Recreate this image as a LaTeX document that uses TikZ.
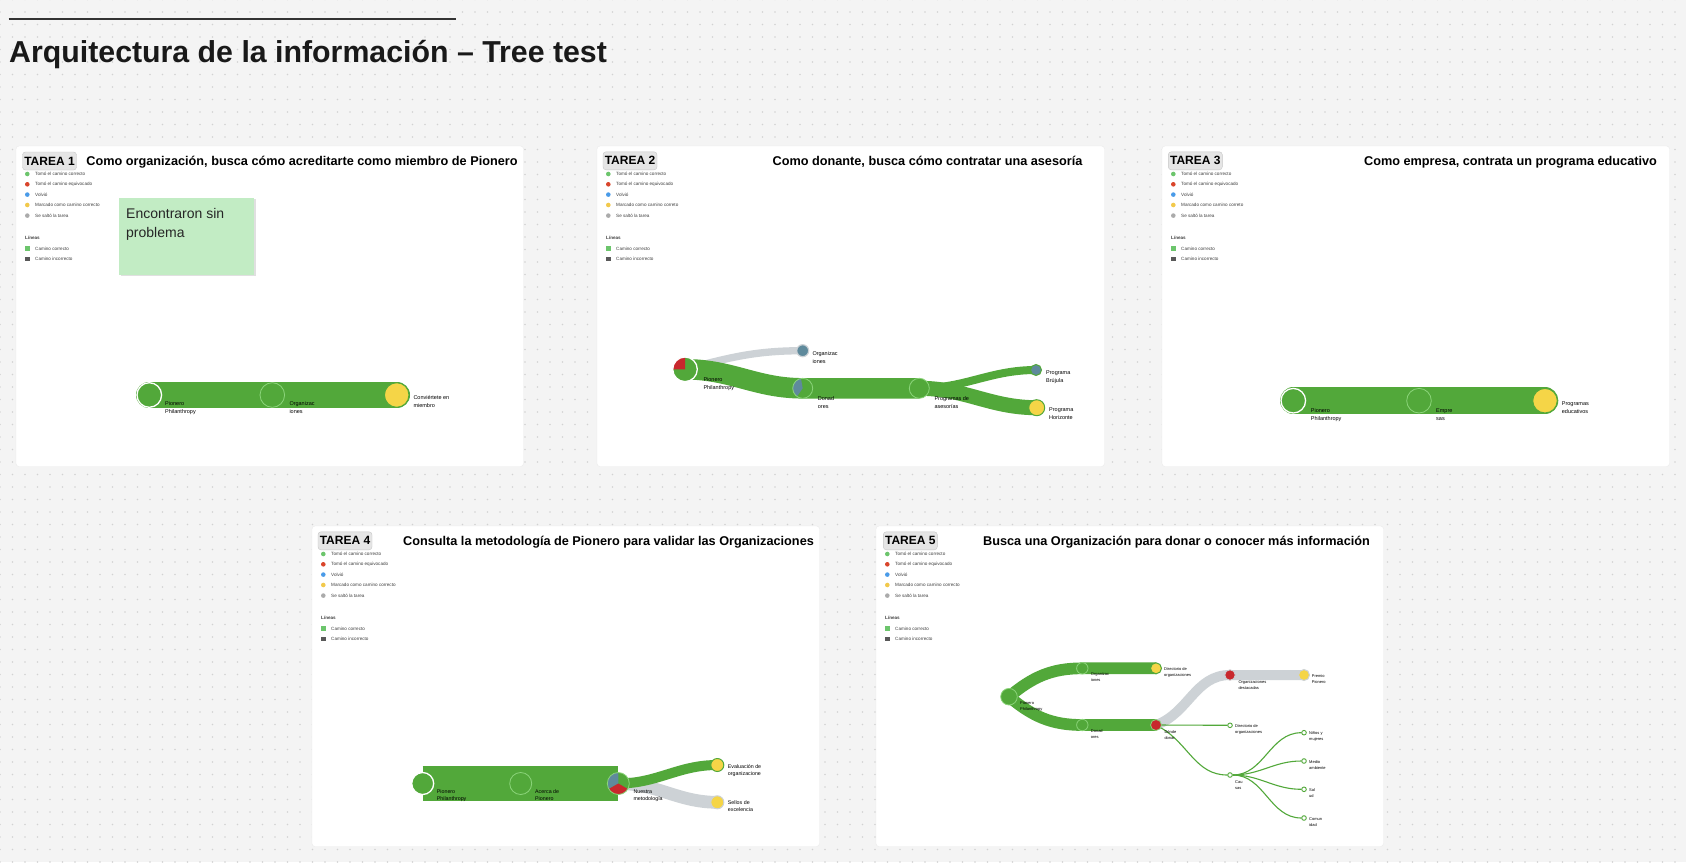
\documentclass[tikz,border=0pt]{standalone}
\usepackage{fontspec}
\setmainfont{Liberation Sans}
\usetikzlibrary{patterns.meta}

\definecolor{fondo}{HTML}{F4F4F4}
\definecolor{gridpunto}{HTML}{D2D2D2}
\definecolor{verde}{HTML}{52A83A}
\definecolor{verdeclaro}{HTML}{8BD47A}
\definecolor{amarillo}{HTML}{F5D547}
\definecolor{rojo}{HTML}{C8282D}
\definecolor{volvio}{HTML}{5F8A9C}
\definecolor{grisbanda}{HTML}{CDD2D6}
\definecolor{legverde}{HTML}{6CC56C}
\definecolor{legrojo}{HTML}{D9452B}
\definecolor{legazul}{HTML}{4A9BE8}
\definecolor{legamar}{HTML}{F2C94C}
\definecolor{leggris}{HTML}{ABABAB}
\definecolor{nota}{HTML}{C2ECC4}

\pgfdeclarelayer{fondo}
\pgfdeclarelayer{bandas}
\pgfsetlayers{fondo,bandas,main}

\tikzset{
  panel/.style={fill=white, draw=black!8, rounded corners=3pt},
  etiqueta/.style={fill=black!10, draw=black!22, rounded corners=3pt, inner sep=0pt,
    minimum width=54pt, minimum height=18pt, font=\bfseries\fontsize{12}{12}\selectfont},
  tarea/.style={anchor=base, inner sep=0pt, font=\bfseries\fontsize{12.7}{13}\selectfont},
  leytexto/.style={anchor=west, inner sep=0pt, text=black!75, font=\fontsize{4.6}{5}\selectfont},
  bolita/.style={circle, inner sep=0pt, minimum size=4.6pt},
  cuadrito/.style={inner sep=0pt, minimum size=4.4pt},
  rotulo/.style={anchor=north west, inner sep=0pt, align=left, text=black,
    font=\fontsize{5.5}{8}\selectfont},
  rotulito/.style={anchor=north west, inner sep=0pt, align=left, text=black,
    font=\fontsize{4}{6}\selectfont},
  nodo/.style={circle, inner sep=0pt, minimum size=#1},
  inicio/.style={fill=verde, draw=white, line width=1.3pt},
  ok/.style={fill=verde, draw=verdeclaro, line width=.8pt},
  fin/.style={fill=amarillo, draw=verde, line width=1pt},
  vuelta/.style={fill=volvio, draw=verde, line width=1pt},
  fallo/.style={fill=rojo, draw=verdeclaro, line width=.8pt},
  hueco/.style={fill=white, draw=verde, line width=.9pt},
  banda/.style={draw=verde},
  gris/.style={draw=grisbanda},
  hilo/.style={draw=verde, line width=1.1pt},
}

% leyenda de cada tarjeta, en coordenadas de la tarjeta
\newcommand\leyenda[2]{%
  \node[bolita, fill=legverde] (#1a) at (11.3,-28) {};
  \node[leytexto] (#1ta) at (19,-28) {Tomó el camino correcto};
  \node[bolita, fill=legrojo] (#1b) at (11.3,-38.3) {};
  \node[leytexto] (#1tb) at (19,-38.3) {Tomó el camino equivocado};
  \node[bolita, fill=legazul] (#1c) at (11.3,-48.6) {};
  \node[leytexto] (#1tc) at (19,-48.6) {Volvió};
  \node[bolita, fill=legamar] (#1d) at (11.3,-59) {};
  \node[leytexto] (#1td) at (19,-59) {Marcado como camino #2};
  \node[bolita, fill=leggris] (#1e) at (11.3,-69.6) {};
  \node[leytexto] (#1te) at (19,-69.6) {Se saltó la tarea};
  \node[leytexto, font=\bfseries\fontsize{4.6}{5}\selectfont] (#1tl) at (9,-91.7) {Líneas};
  \node[cuadrito, fill=legverde] (#1f) at (11.3,-102.6) {};
  \node[leytexto] (#1tf) at (19,-102.6) {Camino correcto};
  \node[cuadrito, fill=black!65] (#1g) at (11.3,-113) {};
  \node[leytexto] (#1tg) at (19,-113) {Camino incorrecto};
}

\begin{document}
\begin{tikzpicture}[x=1pt,y=1pt]
  \useasboundingbox (0,0) rectangle (1686,-862);

  \begin{pgfonlayer}{fondo}
    \fill[fondo] (0,0) rectangle (1686,-862);
    \fill[pattern={Dots[radius=0.8pt,distance=12.5pt]}, pattern color=gridpunto] (0,0) rectangle (1686,-862);
    \filldraw[panel] (16,-146) rectangle ++(507.5,-320.5);
    \filldraw[panel] (597,-146) rectangle ++(507.5,-320.5);
    \filldraw[panel] (1162,-146) rectangle ++(507.5,-320.5);
    \filldraw[panel] (312,-526) rectangle ++(507.5,-320.5);
    \filldraw[panel] (876,-526) rectangle ++(507.5,-320.5);
  \end{pgfonlayer}

  %%%%% TITULO %%%%%
  \draw[line width=2pt, black!80] (8.6,-19.4) -- (456,-19.4);
  \node[anchor=base west, inner sep=0pt, font=\bfseries\fontsize{30.3}{31}\selectfont, text=black!90]
    (titulo) at (9,-62) {Arquitectura de la información – Tree test};

  %%%%% TAREA 1 %%%%%
  \begin{scope}[shift={(16,-146)}]
    \node[etiqueta] (t1) at (33.5,-15) {TAREA 1};
    \node[tarea] (c1) at (286,-19) {Como organización, busca cómo acreditarte como miembro de Pionero};
    \leyenda{l1}{correcto}
    \fill[black!12] (104.5,-52.8) rectangle (239.5,-129.8);
    \node[fill=nota, anchor=north west, minimum width=135pt, minimum height=77pt, inner sep=0pt]
      (nota1) at (103,-51.3) {};
    \node[anchor=north west, inner sep=0pt, align=left, font=\fontsize{14}{19}\selectfont, text=black!85]
      (nota1t) at (110,-62.5) {Encontraron sin\\problema};
  \end{scope}

  \node[nodo=24.6pt, inicio] (p1) at (149.3,-395) {};
  \node[nodo=24.6pt, ok] (o1) at (272.3,-395) {};
  \node[nodo=24.6pt, fin] (m1) at (396.7,-395) {};
  \begin{pgfonlayer}{bandas}
    \draw[banda, line width=26.6pt, line cap=round] (p1.center) -- (o1.center) -- (m1.center);
  \end{pgfonlayer}
  \node[rotulo] (p1t) at (165,-401.8) {Pionero\\Philanthropy};
  \node[rotulo] (o1t) at (289.3,-401.8) {Organizac\\iones};
  \node[rotulo] (m1t) at (413.3,-394.8) {Conviértete en\\miembro};

  %%%%% TAREA 2 %%%%%
  \begin{scope}[shift={(597,-146)}]
    \node[etiqueta] (t2) at (33,-14.8) {TAREA 2};
    \node[tarea] (c2) at (330.5,-19) {Como donante, busca cómo contratar una asesoría};
    \leyenda{l2}{correto}
  \end{scope}

  \node[nodo=24.6pt, inicio, path picture={\fill[rojo] (path picture bounding box.center)
    -- ++(90:15pt) arc[start angle=90, end angle=180, radius=15pt] -- cycle;}] (p2) at (685,-369.3) {};
  \node[nodo=12pt, fill=volvio, draw=grisbanda, line width=1.2pt] (o2) at (802.7,-350.7) {};
  \node[nodo=20pt, ok, path picture={\fill[volvio] (path picture bounding box.center)
    -- ++(100:12pt) arc[start angle=100, end angle=235, radius=12pt] -- cycle;}] (d2) at (802.7,-388.3) {};
  \node[nodo=20pt, ok] (a2) at (919.3,-388.3) {};
  \node[nodo=11pt, vuelta] (b2) at (1036,-370) {};
  \node[nodo=16pt, fin] (h2) at (1036.7,-407.7) {};
  \begin{pgfonlayer}{bandas}
    \draw[gris, line width=7.3pt] (p2.center) to[out=15,in=180] (o2.center);
    \draw[banda, line width=20.5pt] (p2.center) to[out=0,in=180] (d2.center) -- (a2.center);
    \draw[banda, line width=8pt] (a2.center) to[out=0,in=180] (b2.center);
    \draw[banda, line width=15pt] (a2.center) to[out=0,in=180] (h2.center);
  \end{pgfonlayer}
  \node[rotulo] (p2t) at (703.3,-377.5) {Pionero\\Philanthropy};
  \node[rotulo] (o2t) at (812.3,-351.5) {Organizac\\iones};
  \node[rotulo] (d2t) at (817.7,-396.5) {Donad\\ores};
  \node[rotulo] (a2t) at (934.3,-396.5) {Programas de\\asesorías};
  \node[rotulo] (b2t) at (1046,-370.2) {Programa\\Brújula};
  \node[rotulo] (h2t) at (1049,-407.5) {Programa\\Horizonte};

  %%%%% TAREA 3 %%%%%
  \begin{scope}[shift={(1162,-146)}]
    \node[etiqueta] (t3) at (33.3,-14.8) {TAREA 3};
    \node[tarea] (c3) at (348.5,-19) {Como empresa, contrata un programa educativo};
    \leyenda{l3}{correto}
  \end{scope}

  \node[nodo=24.6pt, inicio] (p3) at (1293.3,-400.7) {};
  \node[nodo=24.6pt, ok] (e3) at (1419,-400.7) {};
  \node[nodo=24.6pt, fin] (m3) at (1545,-400.7) {};
  \begin{pgfonlayer}{bandas}
    \draw[banda, line width=26.6pt, line cap=round] (p3.center) -- (e3.center) -- (m3.center);
  \end{pgfonlayer}
  \node[rotulo] (p3t) at (1310.7,-408.5) {Pionero\\Philanthropy};
  \node[rotulo] (e3t) at (1436,-408.5) {Empre\\sas};
  \node[rotulo] (m3t) at (1561.7,-401.5) {Programas\\educativos};

  %%%%% TAREA 4 %%%%%
  \begin{scope}[shift={(312,-526)}]
    \node[etiqueta] (t4) at (33,-14.8) {TAREA 4};
    \node[tarea] (c4) at (296.5,-19.5) {Consulta la metodología de Pionero para validar las Organizaciones};
    \leyenda{l4}{correcto}
  \end{scope}

  \node[nodo=22pt, inicio] (p4) at (422.7,-783.5) {};
  \node[nodo=22pt, ok] (a4) at (520.7,-783.5) {};
  \node[nodo=22pt, ok, path picture={
      \fill[volvio] (path picture bounding box.center) -- ++(90:14pt) arc[start angle=90, end angle=210, radius=14pt] -- cycle;
      \fill[rojo] (path picture bounding box.center) -- ++(210:14pt) arc[start angle=210, end angle=330, radius=14pt] -- cycle;}]
    (n4) at (618.3,-783.5) {};
  \node[nodo=13pt, fin] (e4) at (717.3,-765) {};
  \node[nodo=13pt, fin, draw=grisbanda] (s4) at (717.3,-802.3) {};
  \begin{pgfonlayer}{bandas}
    \draw[banda, line width=35.7pt] (p4.center) -- (a4.center) -- (n4.center);
    \draw[gris, line width=12.7pt] (n4.center) to[out=0,in=180] (s4.center);
    \draw[banda, line width=10pt] (n4.center) to[out=0,in=180] (e4.center);
  \end{pgfonlayer}
  \node[rotulo, font=\fontsize{5.3}{7}\selectfont] (p4t) at (436.7,-789.8) {Pionero\\Philanthropy};
  \node[rotulo, font=\fontsize{5.3}{7}\selectfont] (a4t) at (535,-789.8) {Acerca de\\Pionero};
  \node[rotulo, font=\fontsize{5.3}{7}\selectfont] (n4t) at (633.3,-789.8) {Nuestra\\metodología};
  \node[rotulo, font=\fontsize{5.3}{7}\selectfont] (e4t) at (727.7,-764.2) {Evaluación de\\organizacione};
  \node[rotulo, font=\fontsize{5.3}{7}\selectfont] (s4t) at (727.7,-800.8) {Sellos de\\excelencia};

  %%%%% TAREA 5 %%%%%
  \begin{scope}[shift={(876,-526)}]
    \node[etiqueta] (t5) at (34.3,-14.8) {TAREA 5};
    \node[tarea] (c5) at (300.5,-19.5) {Busca una Organización para donar o conocer más información};
    \leyenda{l5}{correcto}
  \end{scope}

  \node[nodo=16.6pt, ok] (p5) at (1009,-696.7) {};
  \node[nodo=11.4pt, ok] (o5) at (1082.3,-668.3) {};
  \node[nodo=11pt, fin] (r5) at (1156,-668.3) {};
  \node[nodo=11.4pt, ok] (n5) at (1082.3,-725) {};
  \node[nodo=11pt, fallo] (dd5) at (1156,-725) {};
  \node[nodo=10.5pt, fallo, draw=grisbanda] (ds5) at (1230,-675) {};
  \node[nodo=11pt, fin, draw=grisbanda] (pr5) at (1304,-675) {};
  \node[nodo=4.6pt, hueco] (dir5) at (1230,-725.3) {};
  \node[nodo=4.6pt, hueco] (ca5) at (1230,-775) {};
  \node[nodo=4.6pt, hueco] (k1) at (1304,-732.7) {};
  \node[nodo=4.6pt, hueco] (k2) at (1304,-761) {};
  \node[nodo=4.6pt, hueco] (k3) at (1304,-789.3) {};
  \node[nodo=4.6pt, hueco] (k4) at (1304,-818) {};
  \begin{pgfonlayer}{bandas}
    \draw[banda, line width=11.7pt] (p5.center) to[out=40,in=180] (o5.center) -- (r5.center);
    \draw[banda, line width=11.7pt] (p5.center) to[out=-40,in=180] (n5.center) -- (dd5.center);
    \draw[gris, line width=10pt] (dd5.center) to[out=20,in=180] (ds5.center) -- (pr5.center);
  \end{pgfonlayer}
  \draw[hilo] (dd5) -- (dir5);
  \draw[hilo] (dd5) to[out=-30,in=180] (ca5);
  \draw[hilo] (ca5) to[out=0,in=180] (k1);
  \draw[hilo] (ca5) to[out=0,in=180] (k2);
  \draw[hilo] (ca5) to[out=0,in=180] (k3);
  \draw[hilo] (ca5) to[out=0,in=180] (k4);
  \node[rotulito] (p5t) at (1020,-701) {Pionero\\Philanthropy};
  \node[rotulito] (o5t) at (1090.7,-672.8) {Organizac\\iones};
  \node[rotulito] (r5t) at (1164,-667.8) {Directorio de\\organizaciones};
  \node[rotulito] (n5t) at (1090.7,-729.5) {Donad\\ores};
  \node[rotulito] (dd5t) at (1164.3,-730) {Dónde\\donar};
  \node[rotulito] (ds5t) at (1238.3,-680) {Organizaciones\\destacadas};
  \node[rotulito] (pr5t) at (1311.7,-674.5) {Premio\\Pionero};
  \node[rotulito] (dir5t) at (1235,-724.5) {Directorio de\\organizaciones};
  \node[rotulito] (ca5t) at (1235,-780) {Cau\\sas};
  \node[rotulito] (k1t) at (1309,-731.8) {Niños y\\mujeres};
  \node[rotulito] (k2t) at (1309,-760) {Medio\\ambiente};
  \node[rotulito] (k3t) at (1309,-788.5) {Sal\\ud};
  \node[rotulito] (k4t) at (1309,-817) {Comun\\idad};
\end{tikzpicture}
\end{document}
